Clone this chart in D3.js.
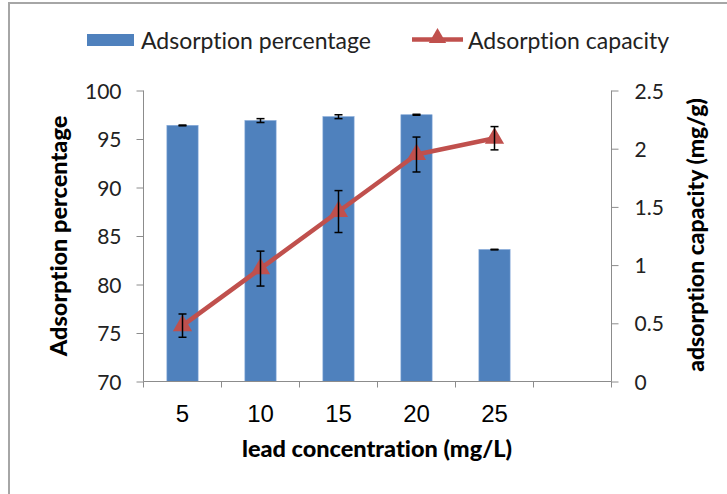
<!DOCTYPE html>
<html>
<head>
<meta charset="utf-8">
<script src="https://cdn.jsdelivr.net/npm/d3@7/dist/d3.min.js"></script>
<style>
  html, body { margin: 0; padding: 0; background: #fff; }
  svg { display: block; }
  text { font-variant-ligatures: none; font-feature-settings: "liga" 0, "dlig" 0; }
</style>
</head>
<body>
<svg id="chart" width="727" height="494"></svg>
<script>
// ---- data ----
const categories = ["5", "10", "15", "20", "25"];
const adsorptionPercentage = [96.4, 96.9, 97.3, 97.5, 83.6];
const adsorptionPercentageErr = [0.04, 0.2, 0.2, 0.05, 0.03];
const adsorptionCapacity = [0.48, 0.97, 1.46, 1.95, 2.09];
const adsorptionCapacityErr = [0.1, 0.15, 0.18, 0.15, 0.1];
const leftTicks = [70, 75, 80, 85, 90, 95, 100];
const rightTicks = [0, 0.5, 1, 1.5, 2, 2.5];
const seriesNames = ["Adsorption percentage", "Adsorption capacity"];

const barColor = "#4F81BD";
const lineColor = "#C0504D";
const axisColor = "#8C8C8C";
const calibri = "Lato, 'Open Sans', sans-serif";

const svg = d3.select("#chart");

// frame
svg.append("rect").attr("x", 0).attr("y", 0).attr("width", 727).attr("height", 494).attr("fill", "#fff");
svg.append("line").attr("x1", 9).attr("x2", 9).attr("y1", 3).attr("y2", 494).attr("stroke", "#A6A6A6").attr("stroke-width", 2);
svg.append("line").attr("x1", 8).attr("x2", 727).attr("y1", 3).attr("y2", 3).attr("stroke", "#A6A6A6").attr("stroke-width", 2);

const plotL = 143.5, plotR = 611.5, plotT = 90.5, plotB = 381.5;

const domain = [...categories, ""];
const x = d3.scaleBand().domain(domain).range([plotL, plotR]).padding(0);
const yL = d3.scaleLinear().domain([70, 100]).range([plotB, plotT]);
const yR = d3.scaleLinear().domain([0, 2.5]).range([plotB, plotT]);

const barW = x.bandwidth() * 0.4;
const cx = c => x(c) + x.bandwidth() / 2;

// bars
svg.append("g").selectAll("rect")
  .data(categories)
  .join("rect")
  .attr("x", c => cx(c) - barW / 2)
  .attr("y", (c, i) => yL(adsorptionPercentage[i]))
  .attr("width", barW)
  .attr("height", (c, i) => plotB - yL(adsorptionPercentage[i]))
  .attr("fill", barColor)
  .attr("stroke", "#7DA3D6")
  .attr("stroke-width", 0.6);

// error bars helper
function errBars(g, vals, errs, scale) {
  const cap = 4;
  categories.forEach((c, i) => {
    const xc = cx(c);
    const y1 = scale(vals[i] + errs[i]), y2 = scale(vals[i] - errs[i]);
    g.append("line").attr("x1", xc).attr("x2", xc).attr("y1", y1).attr("y2", y2);
    g.append("line").attr("x1", xc - cap).attr("x2", xc + cap).attr("y1", y1).attr("y2", y1);
    g.append("line").attr("x1", xc - cap).attr("x2", xc + cap).attr("y1", y2).attr("y2", y2);
  });
}
const ebBar = svg.append("g").attr("stroke", "#000").attr("stroke-width", 1.5);
errBars(ebBar, adsorptionPercentage, adsorptionPercentageErr, yL);

// axes
const axisG = svg.append("g");
axisG.append("line").attr("x1", plotL).attr("x2", plotR).attr("y1", plotB).attr("y2", plotB).attr("stroke", axisColor);
const bounds = [...domain.map(d => x(d)), plotR];
axisG.selectAll("line.xt").data(bounds).join("line").attr("class", "xt")
  .attr("x1", d => d).attr("x2", d => d).attr("y1", plotB).attr("y2", plotB + 6).attr("stroke", axisColor);

const xAxis = d3.axisBottom(x).tickSize(0).tickPadding(0);
const gx = svg.append("g").attr("transform", `translate(0,${plotB})`).call(xAxis);
gx.select(".domain").remove();
gx.selectAll("text")
  .attr("y", 40).attr("dy", 0)
  .attr("font-family", "'Liberation Sans', Arial, sans-serif")
  .attr("font-size", 24).attr("fill", "#000");

const gl = svg.append("g").attr("transform", `translate(${plotL},0)`)
  .call(d3.axisLeft(yL).tickValues(leftTicks).tickSize(7).tickPadding(15).tickFormat(d3.format("d")));
gl.select(".domain").attr("stroke", axisColor).attr("d", `M0,${plotT}V${plotB}`);
gl.selectAll(".tick line").attr("stroke", axisColor);
gl.selectAll("text").attr("font-family", calibri).attr("font-size", 21).attr("fill", "#222").attr("dy", "0.36em");

const gr = svg.append("g").attr("transform", `translate(${plotR},0)`)
  .call(d3.axisRight(yR).tickValues(rightTicks).tickSize(7).tickPadding(16).tickFormat(d => String(d)));
gr.select(".domain").attr("stroke", axisColor).attr("d", `M0,${plotT}V${plotB}`);
gr.selectAll(".tick line").attr("stroke", axisColor);
gr.selectAll("text").attr("font-family", calibri).attr("font-size", 21).attr("fill", "#222").attr("dy", "0.36em");

// line series
const line = d3.line().x((d, i) => cx(categories[i])).y(d => yR(d));
svg.append("path").datum(adsorptionCapacity)
  .attr("d", line).attr("fill", "none").attr("stroke", lineColor).attr("stroke-width", 4.5).attr("stroke-linejoin", "round");

svg.append("g").selectAll("path")
  .data(adsorptionCapacity)
  .join("path")
  .attr("d", d3.symbol(d3.symbolTriangle, 160))
  .attr("transform", (d, i) => `translate(${cx(categories[i])},${yR(d)})`)
  .attr("fill", lineColor);

const ebLine = svg.append("g").attr("stroke", "#000").attr("stroke-width", 1.5);
errBars(ebLine, adsorptionCapacity, adsorptionCapacityErr, yR);

// axis titles
const titleFont = "Lato, 'Open Sans', sans-serif";
svg.append("text")
  .attr("transform", `translate(67,236) rotate(-90)`)
  .attr("text-anchor", "middle")
  .attr("font-family", titleFont).attr("font-weight", 900).attr("font-size", 23.5).attr("fill", "#000")
  .text("Adsorption percentage");
svg.append("text")
  .attr("transform", `translate(704,235) rotate(-90)`)
  .attr("text-anchor", "middle")
  .attr("font-family", titleFont).attr("font-weight", 900).attr("font-size", 23).attr("fill", "#000")
  .text("adsorption capacity (mg/g)");
svg.append("text")
  .attr("x", 377).attr("y", 457)
  .attr("text-anchor", "middle")
  .attr("font-family", titleFont).attr("font-weight", 900).attr("font-size", 23.5).attr("fill", "#000")
  .text("lead concentration (mg/L)");

// legend
const leg = svg.append("g");
leg.append("rect").attr("x", 87).attr("y", 34).attr("width", 47).attr("height", 12).attr("fill", barColor);
leg.append("text").attr("x", 141).attr("y", 48.5)
  .attr("font-family", calibri).attr("font-size", 23).attr("fill", "#222")
  .text(seriesNames[0]);
leg.append("line").attr("x1", 412).attr("x2", 463).attr("y1", 39.5).attr("y2", 39.5)
  .attr("stroke", lineColor).attr("stroke-width", 4.5);
leg.append("path").attr("d", d3.symbol(d3.symbolTriangle, 130))
  .attr("transform", "translate(437.5,38)").attr("fill", lineColor);
leg.append("text").attr("x", 468).attr("y", 48.5)
  .attr("font-family", calibri).attr("font-size", 23).attr("fill", "#222")
  .text(seriesNames[1]);
</script>
</body>
</html>
